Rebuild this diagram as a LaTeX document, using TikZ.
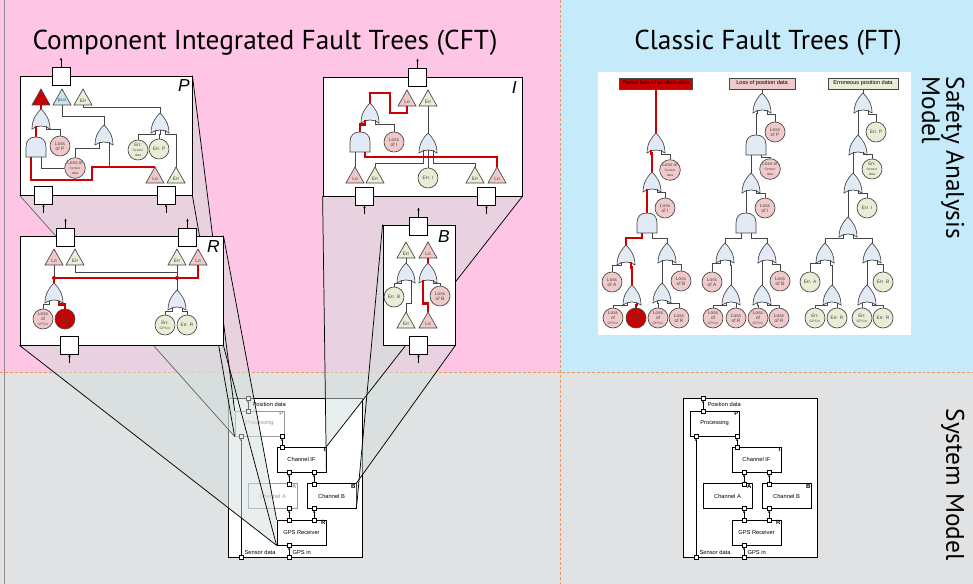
\documentclass[tikz,border=0pt]{standalone}
\usepackage{fontspec}
\setmainfont{Liberation Sans}
\newfontfamily\titlefont{PT Sans}
\usepackage{xcolor}
\usetikzlibrary{arrows.meta}
\definecolor{cftpink}{RGB}{254,198,228}
\definecolor{ftblue}{RGB}{197,234,250}
\definecolor{sysgray}{RGB}{225,226,228}
\definecolor{dashorange}{RGB}{240,150,90}
\definecolor{slabfill}{RGB}{212,222,222}
\definecolor{gatefill}{RGB}{226,234,246}
\definecolor{lofill}{RGB}{240,202,202}
\definecolor{errfill}{RGB}{232,238,214}
\definecolor{plofill}{RGB}{200,228,240}
\definecolor{cftred}{RGB}{204,0,0}
\definecolor{linegray}{RGB}{70,70,70}

\pgfdeclarelayer{bg}
\pgfdeclarelayer{sys}
\pgfdeclarelayer{slab}
\pgfsetlayers{bg,sys,slab,main}

\newcommand{\evsmall}[1]{{\fontsize{2.5}{2.7}\selectfont #1}}

\tikzset{
  gate/.style={draw=linegray, fill=gatefill, line width=0.5pt},
  orgate/.pic={
    \path[gate] (-9,20) .. controls (-9,10) and (-4,4) .. (0,0)
      .. controls (4,4) and (9,10) .. (9,20)
      .. controls (4,16) and (-4,16) .. (-9,20) -- cycle;
    \coordinate (-o) at (0,0);
    \coordinate (-l) at (-5,17.5);
    \coordinate (-c) at (0,17);
    \coordinate (-r) at (5,17.5);
  },
  andgate/.pic={
    \path[gate] (-10,20) -- (-10,10) .. controls (-10,3) and (-6,0) .. (0,0)
      .. controls (6,0) and (10,3) .. (10,10) -- (10,20) -- cycle;
    \coordinate (-o) at (0,0);
    \coordinate (-l) at (-5,20);
    \coordinate (-r) at (5,20);
  },
  tri/.pic={
    \path[draw=linegray, line width=0.5pt, pic actions] (0,0) -- (9,16) -- (-9,16) -- cycle;
    \node[font=\fontsize{3.6}{4}\selectfont, text=linegray, inner sep=0pt] at (0,11.5) {\tikzpictext};
    \coordinate (-top) at (0,0);
    \coordinate (-bot) at (0,16);
  },
  lotri/.style={fill=lofill, pic text=Lo},
  redtri/.style={fill=cftred, pic text=Lo},
  errtri/.style={fill=errfill, pic text=Err},
  plotri/.style={fill=plofill, pic text=pLo},
  evt/.style={circle, draw=linegray, line width=0.5pt, minimum size=15pt, inner sep=0pt,
    align=center, text=linegray, font=\fontsize{3.6}{3.8}\selectfont},
  evtlo/.style={evt, fill=lofill},
  evterr/.style={evt, fill=errfill},
  evtred/.style={evt, fill=cftred},
  conn/.style={draw=linegray, line width=0.55pt},
  redpath/.style={draw=cftred, line width=1.6pt},
  topev/.style={draw=linegray, line width=0.5pt, minimum height=8.25pt, inner sep=1pt,
    font=\fontsize{4.2}{5}\selectfont},
  cftbox/.style={draw=black, fill=white, line width=0.6pt, inner sep=0pt},
  cftport/.style={draw=black, fill=white, line width=0.6pt, minimum size=13.5pt, inner sep=0pt},
  portarrow/.style={-{Stealth[length=2.2pt,width=1.8pt]}, line width=0.45pt},
  boxname/.style={font=\fontsize{13}{13}\selectfont\itshape, anchor=north east, inner sep=0pt},
  slab/.style={fill=slabfill, fill opacity=0.5},
  slabline/.style={draw=black, line width=0.55pt},
  sysouter/.style={draw=black, fill=white, line width=0.6pt, minimum width=100.5pt,
    minimum height=119.25pt, inner sep=0pt},
  comp/.style={draw=black, fill=white, line width=0.6pt, minimum width=36.75pt,
    minimum height=18.75pt, inner sep=0pt, font=\fontsize{4.3}{5}\selectfont},
  compid/.style={font=\fontsize{4.5}{5}\selectfont\bfseries, anchor=north east, inner sep=0.6pt},
  sport/.style={draw=black, fill=white, line width=0.45pt, minimum size=3.2pt, inner sep=0pt},
  sarrow/.style={-{Stealth[length=1.8pt,width=1.6pt]}, line width=0.45pt},
  slabel/.style={font=\fontsize{4.3}{5}\selectfont, anchor=west, inner sep=1pt},
  titletext/.style={font=\titlefont\fontsize{20.5}{20}\selectfont},
  sidetext/.style={font=\titlefont\fontsize{19}{17}\selectfont}
}

\newcommand{\sysmodel}[3]{%
  \begin{scope}[shift={(#2,0)}]
    \node[sysouter] (#1out) at (750,477.5) {};
    \node[comp, draw=#3, text=#3] (#1P) at (714.5,423.5) {Processing};
    \node[comp] (#1I) at (756.5,459.5) {Channel IF};
    \node[comp, draw=#3, text=#3] (#1A) at (727.5,496) {Channel A};
    \node[comp] (#1B) at (786.5,496) {Channel B};
    \node[comp] (#1R) at (756.5,532.5) {GPS Receiver};
    \node[compid, text=#3] (#1Pn) at (#1P.north east) {P};
    \node[compid] (#1In) at (#1I.north east) {I};
    \node[compid, text=#3] (#1An) at (#1A.north east) {A};
    \node[compid] (#1Bn) at (#1B.north east) {B};
    \node[compid] (#1Rn) at (#1R.north east) {R};
    \node[sport] (#1pdo) at (703,398) {};
    \node[sport] (#1pdi) at (703,411) {};
    \node[sport] (#1sdp) at (696,436) {};
    \node[sport] (#1sdo) at (696,557) {};
    \node[sport] (#1pi) at (737,436) {};
    \node[sport] (#1ip) at (737,447) {};
    \node[sport] (#1ia) at (744,472) {};
    \node[sport] (#1ib) at (769,472) {};
    \node[sport] (#1ai) at (744,484) {};
    \node[sport] (#1ar) at (744,508) {};
    \node[sport] (#1bi) at (769,484) {};
    \node[sport] (#1br) at (769,508) {};
    \node[sport] (#1ra) at (744,520) {};
    \node[sport] (#1rb) at (769,520) {};
    \node[sport] (#1rg) at (744,545) {};
    \node[sport] (#1go) at (744,557) {};
    \draw[sarrow] (#1pdi) -- (#1pdo);
    \draw[sarrow] (#1sdo) -- (#1sdp);
    \draw[sarrow] (#1ip) -- (#1pi);
    \draw[sarrow] (#1ai) -- (#1ia);
    \draw[sarrow] (#1bi) -- (#1ib);
    \draw[sarrow] (#1ra) -- (#1ar);
    \draw[sarrow] (#1rb) -- (#1br);
    \draw[sarrow] (#1go) -- (#1rg);
    \node[slabel] (#1tpd) at (706,404) {Position data};
    \node[slabel] (#1tsd) at (698,552.5) {Sensor data};
    \node[slabel] (#1tgi) at (746,552.5) {GPS in};
  \end{scope}}

\begin{document}
\begin{tikzpicture}[x=0.75pt,y=-0.75pt]
\useasboundingbox (0,0) rectangle (973,584);
\begin{pgfonlayer}{bg}
  \fill[cftpink] (0,0) rectangle (560,372);
  \fill[ftblue] (560,0) rectangle (973,372);
  \fill[sysgray] (0,372) rectangle (973,584);
  \draw[dashorange, line width=0.6pt, dash pattern=on 2.2pt off 1.5pt] (560,0) -- (560,584);
  \draw[dashorange, line width=0.6pt, dash pattern=on 2.2pt off 1.5pt] (0,372) -- (973,372);
  \draw[black!45, line width=0.8pt] (4.5,0) -- (4.5,584);
\end{pgfonlayer}

\node[titletext, anchor=base] (cfttitle) at (265,50) {Component Integrated Fault Trees (CFT)};
\node[titletext, anchor=base] (fttitle) at (768,50) {Classic Fault Trees (FT)};
\node[sidetext, rotate=-90, anchor=north west, align=left] (satitle) at (969,72) {Safety Analysis\\Model};
\node[sidetext, rotate=-90, anchor=north west] (smtitle) at (969,404) {System Model};

\begin{pgfonlayer}{sys}
  \sysmodel{l}{-455}{black!40}
  \sysmodel{s}{0}{black}
\end{pgfonlayer}

\node[cftbox, minimum width=129pt, minimum height=89.25pt] (cpbox) at (106,135.5) {};
\node[cftbox, minimum width=149.25pt, minimum height=89.25pt] (cibox) at (422.5,136.5) {};
\node[cftbox, minimum width=152.25pt, minimum height=81.75pt] (crbox) at (121.5,290.5) {};
\node[cftbox, minimum width=54pt, minimum height=90pt] (cbbox) at (419,285) {};

\begin{pgfonlayer}{slab}
  \fill[slab] (cpbox.south west) -- (lP.south west) -- (lP.north west) -- (cpbox.north east) -- (cpbox.north west) -- cycle;
  \fill[slab] (cibox.south west) -- (lI.south east) -- (lI.north east) -- (cibox.south east) -- cycle;
  \fill[slab] (crbox.south west) -- (lR.south west) -- (lR.north west) -- (crbox.north east) -- (crbox.north west) -- cycle;
  \fill[slab] (cbbox.north west) -- (lB.south east) -- (lB.north east) -- (cbbox.south east) -- (cbbox.north east) -- cycle;
  \draw[slabline, black!60] (cpbox.south west) -- (lP.south west);
  \draw[slabline] (cpbox.south east) -- (lP.south west);
  \draw[slabline] (cpbox.north east) -- (lP.north west);
  \draw[slabline] (cibox.south west) -- (lI.south east);
  \draw[slabline] (cibox.south east) -- (lI.north east);
  \draw[slabline] (crbox.south west) -- (lR.south west);
  \draw[slabline] (crbox.south east) -- (lR.south west);
  \draw[slabline] (crbox.north east) -- (lR.north west);
  \draw[slabline] (cbbox.north west) -- (lB.south east);
  \draw[slabline] (cbbox.south east) -- (lB.north east);
\end{pgfonlayer}

\node[boxname] (cpname) at (190,79) {P};
\node[boxname] (crname) at (220,240) {R};
\node[boxname] (ciname) at (517,81) {I};
\node[boxname] (cbname) at (450,230) {B};

\node[cftport] (cpout) at (61,76) {};
\node[cftport] (cpin1) at (43.5,195) {};
\node[cftport] (cpin2) at (166,195) {};
\node[cftport] (crout1) at (65.5,237) {};
\node[cftport] (crout2) at (187.5,237) {};
\node[cftport] (crin) at (69.5,345) {};
\node[cftport] (ciout) at (417.5,77) {};
\node[cftport] (ciin1) at (364.5,196) {};
\node[cftport] (ciin2) at (486.5,196) {};
\node[cftport] (cbout) at (418.5,226) {};
\node[cftport] (cbin) at (418.5,345) {};
\foreach \p in {cpout,crout1,crout2,ciout,cbout}
  \draw[portarrow] (\p.north) -- ++(0,-9);
\foreach \p in {cpin1,cpin2,crin,ciin1,ciin2,cbin}
  \draw[portarrow] (\p.south) ++(0,9) -- (\p.south);

\pic[redtri] (cpLo) at (41,89) {tri};
\pic[plotri] (cpPlo) at (62,89) {tri};
\pic[errtri] (cpErr) at (83,89) {tri};
\pic (cp1) at (41,109) {orgate};
\pic (cp2) at (36,137) {andgate};
\pic (cp3) at (104,125) {orgate};
\pic (cp4) at (160,113) {orgate};
\pic[lotri] (cpLoIn) at (155,167) {tri};
\pic[errtri] (cpErrIn) at (176,167) {tri};
\node[evtlo] (cpLP) at (60,146) {Loss\\of P};
\node[evtlo] (cpLS) at (75,168) {Loss of\\\evsmall{Sensor}\\\evsmall{data}};
\node[evterr] (cpES) at (138,150) {Err.\\\evsmall{Sensor}\\\evsmall{data}};
\node[evterr] (cpEP) at (159,149) {Err. P};
\coordinate (cpK) at (92,180);
\draw[conn] (cp1-r) -- ++(0,3) -| (cpLP.north);
\draw[conn] (cp2-r) |- (cpLS.west);
\draw[conn] (cpPlo-bot) -- ++(0,11) -| (cp3-o);
\draw[conn] (cp3-l) -- ++(0,6) -| (cpLS.north);
\draw[conn] (cp3-r) -- (cp3-r |- cpLoIn-top);
\draw[conn] (cpErr-bot) -- ++(0,2) -| (cp4-o);
\draw[conn] (cp4-l) -- ++(0,4) -| (cpES.north);
\draw[conn] (cp4-c) -- ++(0,4) -| (cpEP.north);
\draw[conn] (cp4-r) -- ++(0,4) -| (cpErrIn-top);
\draw[redpath] (cp1-o) -- (cpLo-bot);
\draw[redpath] (cp1-l) -- ++(0,3) -| (cp2-o);
\draw[redpath] (cp2-l) |- (cpK) |- (cpLoIn-top);

\pic[lotri] (crLo1) at (54,249) {tri};
\pic[errtri] (crErr1) at (75,249) {tri};
\pic[errtri] (crErr2) at (177,249) {tri};
\pic[lotri] (crLo2) at (198,249) {tri};
\pic (cr1) at (54,283) {orgate};
\pic (cr2) at (177,290) {orgate};
\node[evtlo] (crLG) at (43,319) {Loss\\of\\\evsmall{GPS in}};
\node[evtred] (crLR) at (65,319) {Loss\\of R};
\node[evterr] (crEG) at (165,325) {Err.\\\evsmall{GPS in}};
\node[evterr] (crER) at (187,325) {Err. R};
\draw[conn] (crLo1-bot) -- (cr1-o);
\draw[conn] (crErr1-bot) -- ++(0,7) -| (cr2-o);
\draw[conn] (crErr2-bot) -- (cr2-o);
\draw[conn] (cr1-l) -- ++(0,4) -| (crLG.north);
\draw[conn] (cr2-l) -- ++(0,4) -| (crEG.north);
\draw[conn] (cr2-r) -- ++(0,4) -| (crER.north);
\draw[redpath] (crLo2-bot) -- ++(0,13) -| (cr1-o);
\draw[redpath] (cr1-r) -- ++(0,4) -| (crLR.north);
\fill[cftred] (54,278) circle (1.5pt);
\fill[cftred] (177,278) circle (1.5pt);

\pic[lotri] (ciLo) at (407,90) {tri};
\pic[errtri] (ciErr) at (428,90) {tri};
\pic (ci1) at (370,103) {orgate};
\pic (ci2) at (360,132) {andgate};
\pic (ci3) at (428,133) {orgate};
\pic[lotri] (ciLoIn1) at (355,167) {tri};
\pic[errtri] (ciErrIn1) at (375,167) {tri};
\pic[errtri] (ciErrIn2) at (475,167) {tri};
\pic[lotri] (ciLoIn2) at (497,167) {tri};
\node[evtlo] (ciLI) at (394,142) {Loss\\of I};
\node[evterr] (ciEI) at (428,178) {Err. I};
\coordinate (ciK) at (390,93);
\draw[conn] (ciErr-bot) -- (ci3-o);
\draw[conn] (ci1-r) -- ++(0,4) -| (ciLI.north);
\draw[conn] (ci2-l) -- (ciLoIn1-top);
\draw[conn] (ci3-l) -- ++(0,13) -| (ciErrIn1-top);
\draw[conn] (ci3-r) -- ++(0,13) -| (ciErrIn2-top);
\draw[conn] (ci3-c) -- (ciEI.north);
\draw[redpath] (ciLo-bot) -- ++(0,7) -| (ciK) -| (ci1-o);
\draw[redpath] (ci1-l) -- ++(0,4) -| (ci2-o);
\draw[redpath] (ci2-r) -- ++(0,5) -| (ciLoIn2-top);

\pic[errtri] (cbErr) at (406,242) {tri};
\pic[lotri] (cbLo) at (428,242) {tri};
\pic (cb1) at (406,263) {orgate};
\pic (cb2) at (428,263) {orgate};
\pic[errtri] (cbErrIn) at (406,312) {tri};
\pic[lotri] (cbLoIn) at (428,312) {tri};
\node[evterr] (cbEB) at (394,297) {Err. B};
\node[evtlo] (cbLB) at (440,296) {Loss\\of B};
\draw[conn] (cbErr-bot) -- (cb1-o);
\draw[conn] (cb1-l) -- ++(0,3) -| (cbEB.north);
\draw[conn] (cb1-r) -- ++(0,23) -| (cbErrIn-top);
\draw[conn] (cb2-r) -- ++(0,3) -| (cbLB.north);
\draw[redpath] (cbLo-bot) -- (cb2-o);
\draw[redpath] (cb2-l) -- ++(0,23) -| (cbLoIn-top);

\fill[white] (598,72) rectangle (911,335);

\node[topev, fill=cftred, minimum width=54.75pt] (faTop) at (656,83.5) {Partial loss of position data};
\pic (fa1) at (656,133) {orgate};
\pic (fa2) at (652,172) {orgate};
\pic (fa3) at (647,213) {andgate};
\pic (fa4) at (626,245) {orgate};
\pic (fa5) at (667,243) {orgate};
\pic (fa6) at (632,285) {orgate};
\pic (fa7) at (662,283) {orgate};
\node[evtlo] (faS) at (670,170) {Loss of\\\evsmall{Sensor}\\\evsmall{data}};
\node[evtlo] (faI) at (665,208) {Loss\\of I};
\node[evtlo] (faA) at (612,282) {Loss\\of A};
\node[evtlo] (faB) at (681,281) {Loss\\of B};
\node[evtlo] (faG1) at (613,318) {Loss\\of\\\evsmall{GPS in}};
\node[evtred] (faR1) at (636,318) {Loss\\of R};
\node[evtlo] (faG2) at (658,318) {Loss\\of\\\evsmall{GPS in}};
\node[evtlo] (faR2) at (679,318) {Loss\\of R};
\draw[conn] (fa1-r) -- ++(0,4) -| (faS.north);
\draw[conn] (fa2-r) -- ++(0,3) -| (faI.north);
\draw[conn] (fa3-r) -- ++(0,5) -| (fa5-o);
\draw[conn] (fa4-l) -- ++(0,3) -| (faA.north);
\draw[conn] (fa5-l) -- ++(0,3) -| (fa7-o);
\draw[conn] (fa5-r) -- ++(0,4) -| (faB.north);
\draw[conn] (fa6-l) -- ++(0,2.5) -| (faG1.north);
\draw[conn] (fa7-l) -- ++(0,2.5) -| (faG2.north);
\draw[conn] (fa7-r) -- ++(0,2.5) -| (faR2.north);
\draw[redpath] (faTop.south) -- (fa1-o);
\draw[redpath] (fa1-l) -- ++(0,3) -| (fa2-o);
\draw[redpath] (fa2-l) -- ++(0,3) -| (fa3-o);
\draw[redpath] (fa3-l) -- ++(0,5) -| (fa4-o);
\draw[redpath] (fa4-r) -- ++(0,5) -| (fa6-o);
\draw[redpath] (fa6-r) -- ++(0,2.5) -| (faR1.north);

\node[topev, fill=lofill, minimum width=49.5pt] (fbTop) at (762,83.5) {Loss of position data};
\pic (fb1) at (762,93) {orgate};
\pic (fb2) at (756,135) {andgate};
\pic (fb3) at (751,173) {orgate};
\pic (fb4) at (746,213) {andgate};
\pic (fb5) at (725,243) {orgate};
\pic (fb6) at (767,243) {orgate};
\pic (fb7) at (731,285) {orgate};
\pic (fb8) at (762,285) {orgate};
\node[evtlo] (fbP) at (775,132) {Loss\\of P};
\node[evtlo] (fbS) at (770,169) {Loss of\\\evsmall{Sensor}\\\evsmall{data}};
\node[evtlo] (fbI) at (765,208) {Loss\\of I};
\node[evtlo] (fbA) at (712,282) {Loss\\of A};
\node[evtlo] (fbB) at (780,281) {Loss\\of B};
\node[evtlo] (fbG1) at (713,318) {Loss\\of\\\evsmall{GPS in}};
\node[evtlo] (fbR1) at (736,318) {Loss\\of R};
\node[evtlo] (fbG2) at (758,318) {Loss\\of\\\evsmall{GPS in}};
\node[evtlo] (fbR2) at (779,318) {Loss\\of R};
\draw[conn] (fbTop.south) -- (fb1-o);
\draw[conn] (fb1-l) -- ++(0,3) -| (fb2-o);
\draw[conn] (fb1-r) -- ++(0,4) -| (fbP.north);
\draw[conn] (fb2-l) -- ++(0,3) -| (fb3-o);
\draw[conn] (fb2-r) -- ++(0,2) -| (fbS.north);
\draw[conn] (fb3-l) -- ++(0,3) -| (fb4-o);
\draw[conn] (fb3-r) -- ++(0,3) -| (fbI.north);
\draw[conn] (fb4-l) -- ++(0,5) -| (fb5-o);
\draw[conn] (fb4-r) -- ++(0,5) -| (fb6-o);
\draw[conn] (fb5-l) -- ++(0,3) -| (fbA.north);
\draw[conn] (fb5-r) -- ++(0,5) -| (fb7-o);
\draw[conn] (fb6-l) -- ++(0,5) -| (fb8-o);
\draw[conn] (fb6-r) -- ++(0,4) -| (fbB.north);
\draw[conn] (fb7-l) -- ++(0,2.5) -| (fbG1.north);
\draw[conn] (fb7-r) -- ++(0,2.5) -| (fbR1.north);
\draw[conn] (fb8-l) -- ++(0,2.5) -| (fbG2.north);
\draw[conn] (fb8-r) -- ++(0,2.5) -| (fbR2.north);

\node[topev, fill=errfill, minimum width=52.5pt] (fcTop) at (863,83.5) {Erroneous position data};
\pic (fc1) at (863,93) {orgate};
\pic (fc2) at (858,135) {orgate};
\pic (fc3) at (853,173) {orgate};
\pic (fc4) at (848,217) {orgate};
\pic (fc5) at (825,243) {orgate};
\pic (fc6) at (872,243) {orgate};
\pic (fc7) at (832,285) {orgate};
\pic (fc8) at (867,285) {orgate};
\node[evterr] (fcP) at (876,132) {Err. P};
\node[evterr] (fcS) at (872,169) {Err.\\\evsmall{Sensor}\\\evsmall{data}};
\node[evterr] (fcI) at (867,208) {Err. I};
\node[evterr] (fcA) at (810,282) {Err. A};
\node[evterr] (fcB) at (883,282) {Err. B};
\node[evterr] (fcG1) at (815,318) {Err.\\\evsmall{GPS in}};
\node[evterr] (fcR1) at (837,318) {Err. R};
\node[evterr] (fcG2) at (862,318) {Err.\\\evsmall{GPS in}};
\node[evterr] (fcR2) at (883,318) {Err. R};
\draw[conn] (fcTop.south) -- (fc1-o);
\draw[conn] (fc1-l) -- ++(0,3) -| (fc2-o);
\draw[conn] (fc1-r) -- ++(0,4) -| (fcP.north);
\draw[conn] (fc2-l) -- ++(0,3) -| (fc3-o);
\draw[conn] (fc2-r) -- ++(0,2) -| (fcS.north);
\draw[conn] (fc3-l) -- ++(0,3) -| (fc4-o);
\draw[conn] (fc3-r) -- ++(0,3) -| (fcI.north);
\draw[conn] (fc4-l) -- ++(0,4) -| (fc5-o);
\draw[conn] (fc4-r) -- ++(0,4) -| (fc6-o);
\draw[conn] (fc5-l) -- ++(0,3) -| (fcA.north);
\draw[conn] (fc5-r) -- ++(0,5) -| (fc7-o);
\draw[conn] (fc6-l) -- ++(0,5) -| (fc8-o);
\draw[conn] (fc6-r) -- ++(0,4) -| (fcB.north);
\draw[conn] (fc7-l) -- ++(0,2.5) -| (fcG1.north);
\draw[conn] (fc7-r) -- ++(0,2.5) -| (fcR1.north);
\draw[conn] (fc8-l) -- ++(0,2.5) -| (fcG2.north);
\draw[conn] (fc8-r) -- ++(0,2.5) -| (fcR2.north);
\end{tikzpicture}
\end{document}
